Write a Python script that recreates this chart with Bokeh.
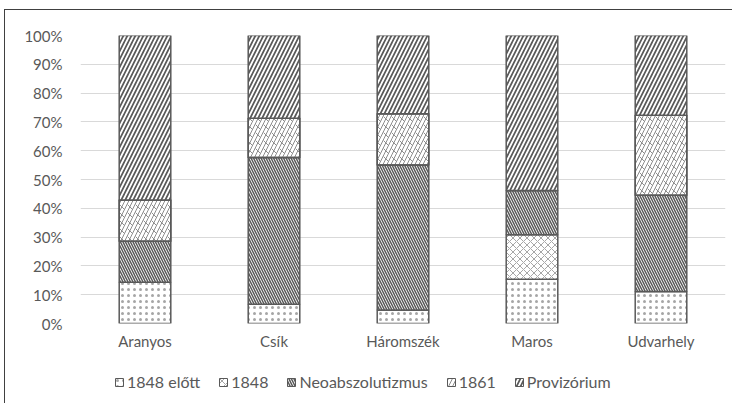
import numpy as np
from bokeh.plotting import figure
from bokeh.layouts import column, row
from bokeh.models import (ColumnDataSource, Legend, LegendItem, NumeralTickFormatter,
                          FixedTicker, Range1d, Spacer)
from bokeh.embed import file_html
from bokeh.resources import INLINE

categories = ["Aranyos", "Csík", "Háromszék", "Maros", "Udvarhely"]
series_names = ["1848 előtt", "1848", "Neoabszolutizmus", "1861", "Provizórium"]
elott_1848 = [14.3, 6.7, 4.7, 15.4, 11.1]
ev_1848 = [0.0, 0.0, 0.0, 15.4, 0.0]
neoabszolutizmus = [14.3, 50.9, 50.3, 15.4, 33.4]
ev_1861 = [14.3, 13.7, 17.8, 0.0, 27.8]
provizorium = [57.1, 28.7, 27.2, 53.8, 27.7]
y_ticks = [0, 0.1, 0.2, 0.3, 0.4, 0.5, 0.6, 0.7, 0.8, 0.9, 1.0]

series = [elott_1848, ev_1848, neoabszolutizmus, ev_1861, provizorium]
vals = np.array(series, dtype=float)
vals = vals / vals.sum(axis=0)
tops = np.cumsum(vals, axis=0)
bottoms = tops - vals

data = {"x": categories}
for i in range(len(series)):
    data[f"b{i}"] = bottoms[i]
    data[f"t{i}"] = tops[i]
src = ColumnDataSource(data)

FONT = "Lato"
TXT = "#595959"
EDGE = "#595959"

p = figure(x_range=categories, y_range=Range1d(0, 1), width=727, height=345,
           output_backend="svg", toolbar_location=None,
           min_border_left=75, min_border_right=7, min_border_top=25, min_border_bottom=32)
p.outline_line_color = None

styles = [
    dict(hatch_pattern="dot", hatch_scale=6, hatch_weight=0.6, hatch_color="#a6a6a6"),
    dict(hatch_pattern="diagonal_cross", hatch_scale=7, hatch_weight=1, hatch_color="#a6a6a6"),
    dict(hatch_pattern="left_diagonal_line", hatch_scale=5, hatch_weight=1.5, hatch_color="#595959"),
    dict(hatch_pattern="right_diagonal_line", hatch_scale=8, hatch_weight=1, hatch_color="#8c8c8c"),
    dict(hatch_pattern="right_diagonal_line", hatch_scale=8, hatch_weight=1.7, hatch_color="#595959"),
]
overlay_1861 = dict(hatch_pattern="left_diagonal_dash", hatch_scale=8, hatch_weight=1,
                    hatch_color="#8c8c8c")

for i, name in enumerate(series_names):
    p.vbar(x="x", bottom=f"b{i}", top=f"t{i}", width=0.4, source=src,
           fill_color="white", line_color=EDGE, line_width=1.5, **styles[i])
    if i == 3:
        p.vbar(x="x", bottom=f"b{i}", top=f"t{i}", width=0.4, source=src,
               fill_alpha=0, line_color=EDGE, line_width=1.5, **overlay_1861)

p.yaxis.ticker = FixedTicker(ticks=y_ticks)
p.yaxis.formatter = NumeralTickFormatter(format="0%")
p.xgrid.grid_line_color = None
p.ygrid.grid_line_color = "#d9d9d9"
p.ygrid.grid_line_width = 1
p.ygrid.ticker = FixedTicker(ticks=y_ticks)
for ax in (p.xaxis[0], p.yaxis[0]):
    ax.axis_line_color = None
    ax.major_tick_line_color = None
    ax.minor_tick_line_color = None
    ax.major_label_text_font = FONT
    ax.major_label_text_font_size = "15px"
    ax.major_label_text_color = TXT
p.yaxis.major_label_standoff = 12
p.xaxis.major_label_standoff = 2

# legend figure (swatch renderers sit outside the visible range)
lg = figure(width=727, height=48, x_range=Range1d(0, 1), y_range=Range1d(0, 1),
            output_backend="svg", toolbar_location=None, min_border=0)
lg.outline_line_color = None
lg.axis.visible = False
lg.grid.visible = False
items = []
swatch_src = ColumnDataSource(dict(x=[-10.0], b=[0.0], t=[0.0]))
for i, name in enumerate(series_names):
    r = lg.vbar(x="x", bottom="b", top="t", width=0.4, source=swatch_src,
                fill_color="white", line_color=EDGE, line_width=1, **styles[i])
    items.append(LegendItem(label=name, renderers=[r]))
legend = Legend(items=items, orientation="horizontal", location=(34, 12),
                glyph_width=10, glyph_height=10, label_standoff=3, spacing=18,
                label_text_font=FONT, label_text_font_size="16px", label_text_color=TXT,
                border_line_color=None, background_fill_alpha=0, padding=2, margin=0)
lg.add_layout(legend, "center")

inner = column(p, lg, spacing=0)
inner.styles = {"border-left": "1px solid #404040", "border-top": "1px solid #404040"}
layout = column(Spacer(height=9), row(Spacer(width=4), inner, spacing=0), spacing=0)

open("out.html", "w").write(file_html(layout, INLINE))
